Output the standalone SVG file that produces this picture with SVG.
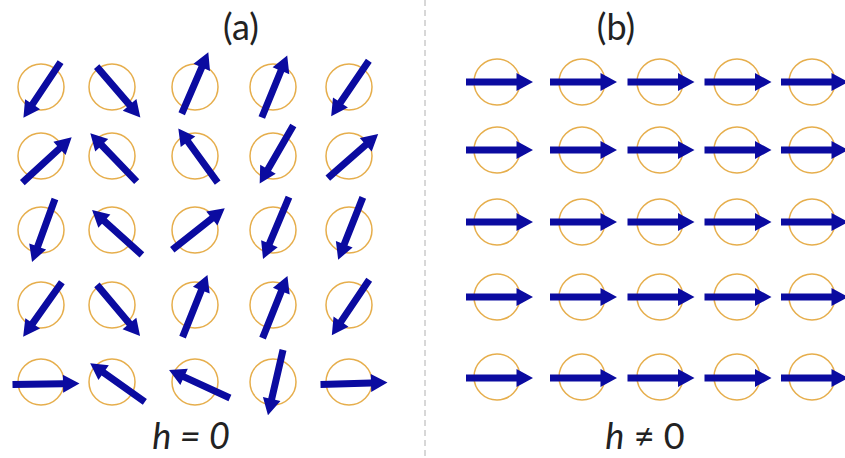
<svg xmlns="http://www.w3.org/2000/svg" xmlns:xlink="http://www.w3.org/1999/xlink" width="845" height="458" viewBox="0 0 845 458">
<defs>
<style>
.ring{fill:none;stroke:#E6AE4C;stroke-width:1.5}
.spin{fill:#0B0BA0}
.lbl{font-family:Lato,"Open Sans","Liberation Sans",sans-serif;fill:#222}
</style>
<path id="arrow" d="M-33.5,-3.5 H17 V-9 L33.5,0 L17,9 V3.5 H-33.5 Z"/>
</defs>
<rect width="845" height="458" fill="#fff"/>
<g id="divider"><line x1="425" y1="0" x2="425" y2="458" stroke="#b0b0b0" stroke-width="1" stroke-dasharray="6,4"/></g>
<text class="lbl" x="241" y="40" font-size="36" text-anchor="middle">(a)</text>
<text class="lbl" x="616" y="40" font-size="36" text-anchor="middle">(b)</text>
<text class="lbl" x="191" y="449" font-size="36" text-anchor="middle" font-style="italic">h = 0</text>
<text class="lbl" x="645" y="449" font-size="36" text-anchor="middle"><tspan font-style="italic">h</tspan> ≠ 0</text>

<g id="panel-a">
<g id="a11"><circle class="ring" cx="41" cy="87" r="23"/><use xlink:href="#arrow" class="spin" transform="translate(42,90) rotate(123.7)"/></g>
<g id="a12"><circle class="ring" cx="112" cy="87" r="23"/><use xlink:href="#arrow" class="spin" transform="translate(118.5,92) rotate(49.3)"/></g>
<g id="a13"><circle class="ring" cx="195" cy="87" r="23"/><use xlink:href="#arrow" class="spin" transform="translate(195,83) rotate(-66.6)"/></g>
<g id="a14"><circle class="ring" cx="273" cy="87" r="23"/><use xlink:href="#arrow" class="spin" transform="translate(274.5,86.5) rotate(-67.7)"/></g>
<g id="a15"><circle class="ring" cx="349" cy="87" r="23"/><use xlink:href="#arrow" class="spin" transform="translate(350,88.5) rotate(124.2)"/></g>

<g id="a21"><circle class="ring" cx="41" cy="156" r="23"/><use xlink:href="#arrow" class="spin" transform="translate(47,160) rotate(-42.6)"/></g>
<g id="a22"><circle class="ring" cx="112" cy="156" r="23"/><use xlink:href="#arrow" class="spin" transform="translate(113.5,157.5) rotate(-133.8)"/></g>
<g id="a23"><circle class="ring" cx="195" cy="156" r="23"/><use xlink:href="#arrow" class="spin" transform="translate(198,155.5) rotate(-126)"/></g>
<g id="a24"><circle class="ring" cx="273" cy="156" r="23"/><use xlink:href="#arrow" class="spin" transform="translate(276.5,154.5) rotate(120.1)"/></g>
<g id="a25"><circle class="ring" cx="349" cy="156" r="23"/><use xlink:href="#arrow" class="spin" transform="translate(353,156) rotate(-41.3)"/></g>

<g id="a31"><circle class="ring" cx="41" cy="230" r="23"/><use xlink:href="#arrow" class="spin" transform="translate(43.5,230.5) rotate(110)"/></g>
<g id="a32"><circle class="ring" cx="112" cy="230" r="23"/><use xlink:href="#arrow" class="spin" transform="translate(117,232.5) rotate(-138)"/></g>
<g id="a33"><circle class="ring" cx="195" cy="230" r="23"/><use xlink:href="#arrow" class="spin" transform="translate(198.5,229) rotate(-38.4)"/></g>
<g id="a34"><circle class="ring" cx="273" cy="230" r="23"/><use xlink:href="#arrow" class="spin" transform="translate(276,228) rotate(112.8)"/></g>
<g id="a35"><circle class="ring" cx="349" cy="230" r="23"/><use xlink:href="#arrow" class="spin" transform="translate(350.5,228.5) rotate(111.6)"/></g>

<g id="a41"><circle class="ring" cx="41" cy="305" r="23"/><use xlink:href="#arrow" class="spin" transform="translate(42.5,309.5) rotate(125.3)"/></g>
<g id="a42"><circle class="ring" cx="112" cy="305" r="23"/><use xlink:href="#arrow" class="spin" transform="translate(118.5,310.5) rotate(49.9)"/></g>
<g id="a43"><circle class="ring" cx="195" cy="305" r="23"/><use xlink:href="#arrow" class="spin" transform="translate(195,306) rotate(-68.2)"/></g>
<g id="a44"><circle class="ring" cx="273" cy="305" r="23"/><use xlink:href="#arrow" class="spin" transform="translate(275,307) rotate(-68.2)"/></g>
<g id="a45"><circle class="ring" cx="349" cy="305" r="23"/><use xlink:href="#arrow" class="spin" transform="translate(350.5,307.5) rotate(123.9)"/></g>

<g id="a51"><circle class="ring" cx="41" cy="382" r="23"/><use xlink:href="#arrow" class="spin" transform="translate(46,384) rotate(-1)"/></g>
<g id="a52"><circle class="ring" cx="112" cy="382" r="23"/><use xlink:href="#arrow" class="spin" transform="translate(117.5,382.5) rotate(-144.7)"/></g>
<g id="a53"><circle class="ring" cx="195" cy="382" r="23"/><use xlink:href="#arrow" class="spin" transform="translate(199.5,384) rotate(-155.3)"/></g>
<g id="a54"><circle class="ring" cx="273" cy="382" r="23"/><use xlink:href="#arrow" class="spin" transform="translate(275.5,382.5) rotate(103)"/></g>
<g id="a55"><circle class="ring" cx="349" cy="382" r="23"/><use xlink:href="#arrow" class="spin" transform="translate(354,383.5) rotate(-1.5)"/></g>
</g>

<g id="panel-b">
<g id="b11"><circle class="ring" cx="497" cy="82" r="23"/><use xlink:href="#arrow" class="spin" transform="translate(499.5,82)"/></g>
<g id="b12"><circle class="ring" cx="582" cy="82" r="23"/><use xlink:href="#arrow" class="spin" transform="translate(583.5,82)"/></g>
<g id="b13"><circle class="ring" cx="660" cy="82" r="23"/><use xlink:href="#arrow" class="spin" transform="translate(661,82)"/></g>
<g id="b14"><circle class="ring" cx="737" cy="82" r="23"/><use xlink:href="#arrow" class="spin" transform="translate(738,82)"/></g>
<g id="b15"><circle class="ring" cx="812" cy="82" r="23"/><use xlink:href="#arrow" class="spin" transform="translate(814.5,82)"/></g>

<g id="b21"><circle class="ring" cx="497" cy="150" r="23"/><use xlink:href="#arrow" class="spin" transform="translate(499.5,150)"/></g>
<g id="b22"><circle class="ring" cx="582" cy="150" r="23"/><use xlink:href="#arrow" class="spin" transform="translate(583.5,150)"/></g>
<g id="b23"><circle class="ring" cx="660" cy="150" r="23"/><use xlink:href="#arrow" class="spin" transform="translate(661,150)"/></g>
<g id="b24"><circle class="ring" cx="737" cy="150" r="23"/><use xlink:href="#arrow" class="spin" transform="translate(738,150)"/></g>
<g id="b25"><circle class="ring" cx="812" cy="150" r="23"/><use xlink:href="#arrow" class="spin" transform="translate(814.5,150)"/></g>

<g id="b31"><circle class="ring" cx="497" cy="222" r="23"/><use xlink:href="#arrow" class="spin" transform="translate(499.5,222)"/></g>
<g id="b32"><circle class="ring" cx="582" cy="222" r="23"/><use xlink:href="#arrow" class="spin" transform="translate(583.5,222)"/></g>
<g id="b33"><circle class="ring" cx="660" cy="222" r="23"/><use xlink:href="#arrow" class="spin" transform="translate(661,222)"/></g>
<g id="b34"><circle class="ring" cx="737" cy="222" r="23"/><use xlink:href="#arrow" class="spin" transform="translate(738,222)"/></g>
<g id="b35"><circle class="ring" cx="812" cy="222" r="23"/><use xlink:href="#arrow" class="spin" transform="translate(814.5,222)"/></g>

<g id="b41"><circle class="ring" cx="497" cy="297" r="23"/><use xlink:href="#arrow" class="spin" transform="translate(499.5,297)"/></g>
<g id="b42"><circle class="ring" cx="582" cy="297" r="23"/><use xlink:href="#arrow" class="spin" transform="translate(583.5,297)"/></g>
<g id="b43"><circle class="ring" cx="660" cy="297" r="23"/><use xlink:href="#arrow" class="spin" transform="translate(661,297)"/></g>
<g id="b44"><circle class="ring" cx="737" cy="297" r="23"/><use xlink:href="#arrow" class="spin" transform="translate(738,297)"/></g>
<g id="b45"><circle class="ring" cx="812" cy="297" r="23"/><use xlink:href="#arrow" class="spin" transform="translate(814.5,297)"/></g>

<g id="b51"><circle class="ring" cx="497" cy="377" r="23"/><use xlink:href="#arrow" class="spin" transform="translate(499.5,378)"/></g>
<g id="b52"><circle class="ring" cx="582" cy="377" r="23"/><use xlink:href="#arrow" class="spin" transform="translate(583.5,378)"/></g>
<g id="b53"><circle class="ring" cx="660" cy="377" r="23"/><use xlink:href="#arrow" class="spin" transform="translate(661,378)"/></g>
<g id="b54"><circle class="ring" cx="737" cy="377" r="23"/><use xlink:href="#arrow" class="spin" transform="translate(738,378)"/></g>
<g id="b55"><circle class="ring" cx="812" cy="377" r="23"/><use xlink:href="#arrow" class="spin" transform="translate(814.5,378)"/></g>
</g>
</svg>
